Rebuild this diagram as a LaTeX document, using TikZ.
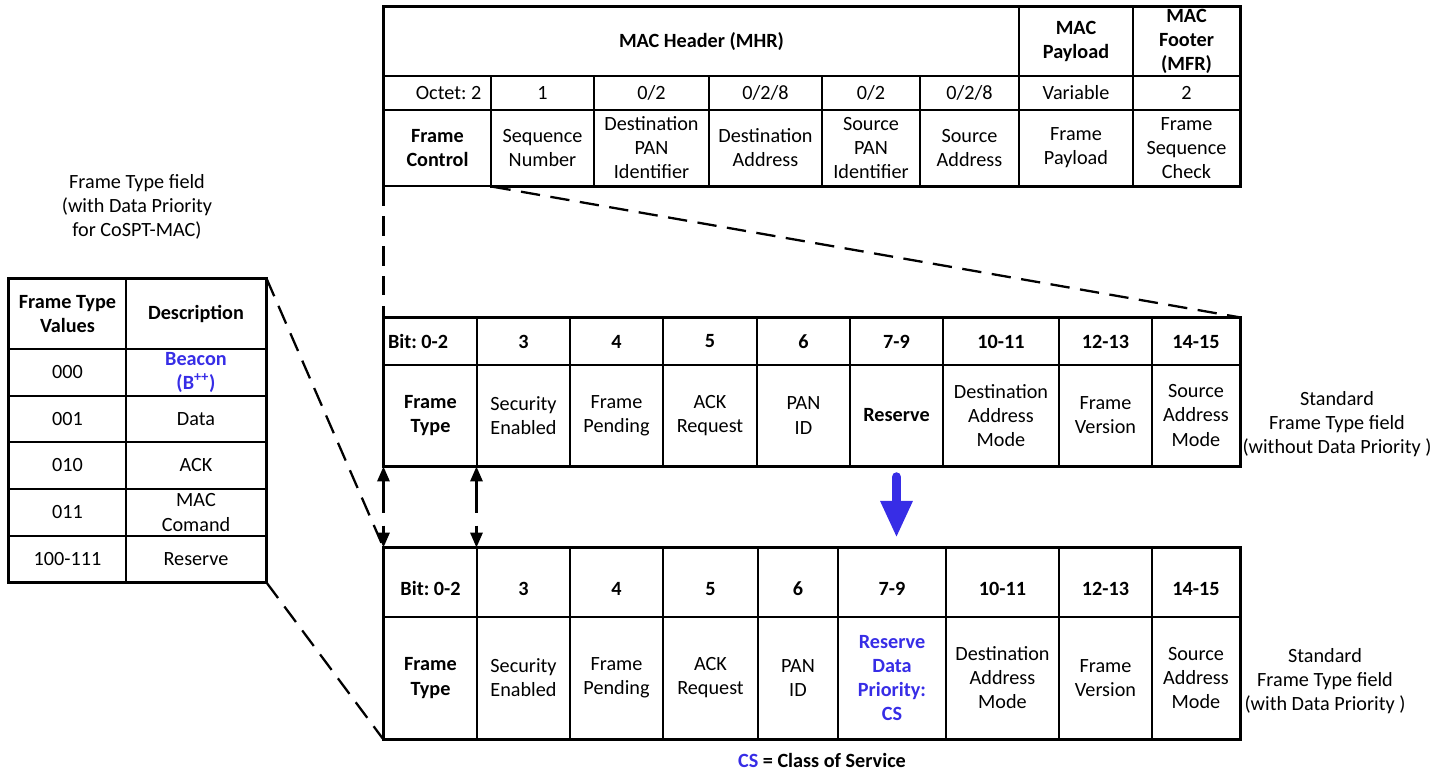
\documentclass[tikz,border=0pt]{standalone}
\usepackage{fontspec}
\setmainfont{Carlito}
\usepackage{tikz}
\usetikzlibrary{arrows.meta}
\frenchspacing
\definecolor{cosblue}{RGB}{55,45,230}
\tikzset{cell/.style={draw, line width=0.6pt, inner sep=0pt, align=center, font=\fontsize{11.5}{13.7}\selectfont}}
\tikzset{hd/.style={font=\fontsize{11.5}{13.7}\selectfont\bfseries}}
\tikzset{plain/.style={align=center, inner sep=0pt, font=\fontsize{11.5}{13.7}\selectfont}}
\tikzset{lowhead/.style={text height=15pt, text depth=0pt}}
\tikzset{outer/.style={line width=1.5pt}}
\tikzset{zoomdash/.style={line width=1.3pt, dash pattern=on 11pt off 6pt}}
\tikzset{dblarrow/.style={line width=1.3pt, dash pattern=on 18.5pt off 7pt, {Triangle[length=8.5pt,width=7pt]}-{Triangle[length=8.5pt,width=7pt]}}}
\tikzset{bluearrow/.style={cosblue, line width=5.5pt, line cap=round, -{Triangle[length=21pt,width=17pt]}}}
% cell: [options]{x1}{y1}{x2}{y2}{name}, corners in pixels
\newcommand{\cell}[6][]{\node[cell,#1,minimum width={(#4-#2)*0.02cm},minimum height={(#5-#3)*0.02cm}] (#6) at ({(#2+#4)/2},{(#3+#5)/2})}

\begin{document}
\begin{tikzpicture}[x=0.02cm, y=-0.02cm]
\useasboundingbox (0,0) rectangle (1448,772);

% MAC frame
\cell[hd]{384}{7}{1019}{76}{mhr} {MAC Header (MHR)};
\cell[hd]{1019}{7}{1133}{76}{mpay} {MAC\\Payload};
\cell[hd]{1133}{7}{1240}{76}{mfoot} {MAC\\Footer\\(MFR)};
\cell[text width=1.75cm, align=flush right]{384}{76}{491}{110}{oct1} {Octet: 2};
\cell{491}{76}{594}{110}{oct2} {1};
\cell{594}{76}{709}{110}{oct3} {0/2};
\cell{709}{76}{822}{110}{oct4} {0/2/8};
\cell{822}{76}{920}{110}{oct5} {0/2};
\cell{920}{76}{1019}{110}{oct6} {0/2/8};
\cell{1019}{76}{1133}{110}{oct7} {Variable};
\cell{1133}{76}{1240}{110}{oct8} {2};
\cell[hd]{384}{110}{491}{186}{fc} {Frame\\Control};
\cell{491}{110}{594}{186}{sq} {Sequence\\Number};
\cell{594}{110}{709}{186}{dpan} {Destination\\PAN\\Identifier};
\cell{709}{110}{822}{186}{dadr} {Destination\\Address};
\cell{822}{110}{920}{186}{span} {Source\\PAN\\Identifier};
\cell{920}{110}{1019}{186}{sadr} {Source\\Address};
\cell{1019}{110}{1133}{186}{fpay} {Frame\\Payload};
\cell{1133}{110}{1240}{186}{fcs} {Frame\\Sequence\\Check};
\draw[outer] (fc.south west) |- (mfoot.north east) |- (sq.south west);

% standard frame control
\cell[hd, text width=1.7cm, align=flush left]{384}{318}{477}{365}{sb1} {Bit: 0-2};
\cell[hd]{477}{318}{570}{365}{sb2} {3};
\cell[hd]{570}{318}{663}{365}{sb3} {4};
\cell[hd]{663}{318}{757}{365}{sb4} {5};
\cell[hd]{757}{318}{850}{365}{sb5} {6};
\cell[hd]{850}{318}{943}{365}{sb6} {7-9};
\cell[hd]{943}{318}{1059}{365}{sb7} {10-11};
\cell[hd]{1059}{318}{1152}{365}{sb8} {12-13};
\cell[hd]{1152}{318}{1240}{365}{sb9} {14-15};
\cell[hd]{384}{365}{477}{466}{sf1} {Frame\\Type};
\cell{477}{365}{570}{466}{sf2} {Security\\Enabled};
\cell{570}{365}{663}{466}{sf3} {Frame\\Pending};
\cell{663}{365}{757}{466}{sf4} {ACK\\Request};
\cell{757}{365}{850}{466}{sf5} {PAN\\ID};
\cell[hd]{850}{365}{943}{466}{sf6} {Reserve};
\cell{943}{365}{1059}{466}{sf7} {Destination\\Address\\Mode};
\cell{1059}{365}{1152}{466}{sf8} {Frame\\Version};
\cell{1152}{365}{1240}{466}{sf9} {Source\\Address\\Mode};
\draw[outer] (sb1.north west) rectangle (sf9.south east);
\node[plain] (stdtop) at (1337,424) {Standard\\Frame Type field\\(without Data Priority )};

% frame control with data priority
\cell[hd, lowhead]{384}{548}{477}{617}{pb1} {Bit: 0-2};
\cell[hd, lowhead]{477}{548}{570}{617}{pb2} {3};
\cell[hd, lowhead]{570}{548}{663}{617}{pb3} {4};
\cell[hd, lowhead]{663}{548}{758}{617}{pb4} {5};
\cell[hd, lowhead]{758}{548}{838}{617}{pb5} {6};
\cell[hd, lowhead]{838}{548}{946}{617}{pb6} {7-9};
\cell[hd, lowhead]{946}{548}{1059}{617}{pb7} {10-11};
\cell[hd, lowhead]{1059}{548}{1152}{617}{pb8} {12-13};
\cell[hd, lowhead]{1152}{548}{1240}{617}{pb9} {14-15};
\cell[hd]{384}{617}{477}{739}{pf1} {Frame\\Type};
\cell{477}{617}{570}{739}{pf2} {Security\\Enabled};
\cell{570}{617}{663}{739}{pf3} {Frame\\Pending};
\cell{663}{617}{758}{739}{pf4} {ACK\\Request};
\cell{758}{617}{838}{739}{pf5} {PAN\\ID};
\cell[hd, text=cosblue]{838}{617}{946}{739}{pf6} {Reserve\\Data\\Priority:\\CS};
\cell{946}{617}{1059}{739}{pf7} {Destination\\Address\\Mode};
\cell{1059}{617}{1152}{739}{pf8} {Frame\\Version};
\cell{1152}{617}{1240}{739}{pf9} {Source\\Address\\Mode};
\draw[outer] (pb1.north west) rectangle (pf9.south east);
\node[plain] (stdbot) at (1325,681) {Standard\\Frame Type field\\(with Data Priority )};
\node[plain, font=\fontsize{11.5}{13.7}\selectfont\bfseries] (cslabel) at (822,760) {\textcolor{cosblue}{CS} = Class of Service};

% frame type values
\node[plain] (ltitle) at (137,207) {Frame Type field\\(with Data Priority\\for CoSPT-MAC)};
\cell[hd]{9}{279}{126}{349}{th1} {Frame Type\\Values};
\cell[hd]{126}{279}{266}{349}{th2} {Description};
\cell{9}{349}{126}{396}{tv1} {000};
\cell[hd, text=cosblue]{126}{349}{266}{396}{td1} {Beacon\\(B\textsuperscript{++})};
\cell{9}{396}{126}{442}{tv2} {001};
\cell{126}{396}{266}{442}{td2} {Data};
\cell{9}{442}{126}{489}{tv3} {010};
\cell{126}{442}{266}{489}{td3} {ACK};
\cell{9}{489}{126}{536}{tv4} {011};
\cell{126}{489}{266}{536}{td4} {MAC\\Comand};
\cell{9}{536}{126}{582}{tv5} {100-111};
\cell{126}{536}{266}{582}{td5} {Reserve};
\draw[outer] (th1.north west) rectangle (td5.south east);

% zoom lines and arrows
\draw[zoomdash] (fc.south west) -- (sb1.north west);
\draw[zoomdash] (fc.south east) -- (sb9.north east);
\draw[zoomdash] (th2.north east) -- (pb1.north west);
\draw[zoomdash] (td5.south east) -- (pf1.south west);
\draw[dblarrow] (sf1.south west) -- (pb1.north west);
\draw[dblarrow] (sf2.south west) -- (pb2.north west);
\draw[bluearrow, shorten <=6pt, shorten >=5.5pt] (sf6.south) -- (sf6.south |- pb6.north);

\end{tikzpicture}
\end{document}
